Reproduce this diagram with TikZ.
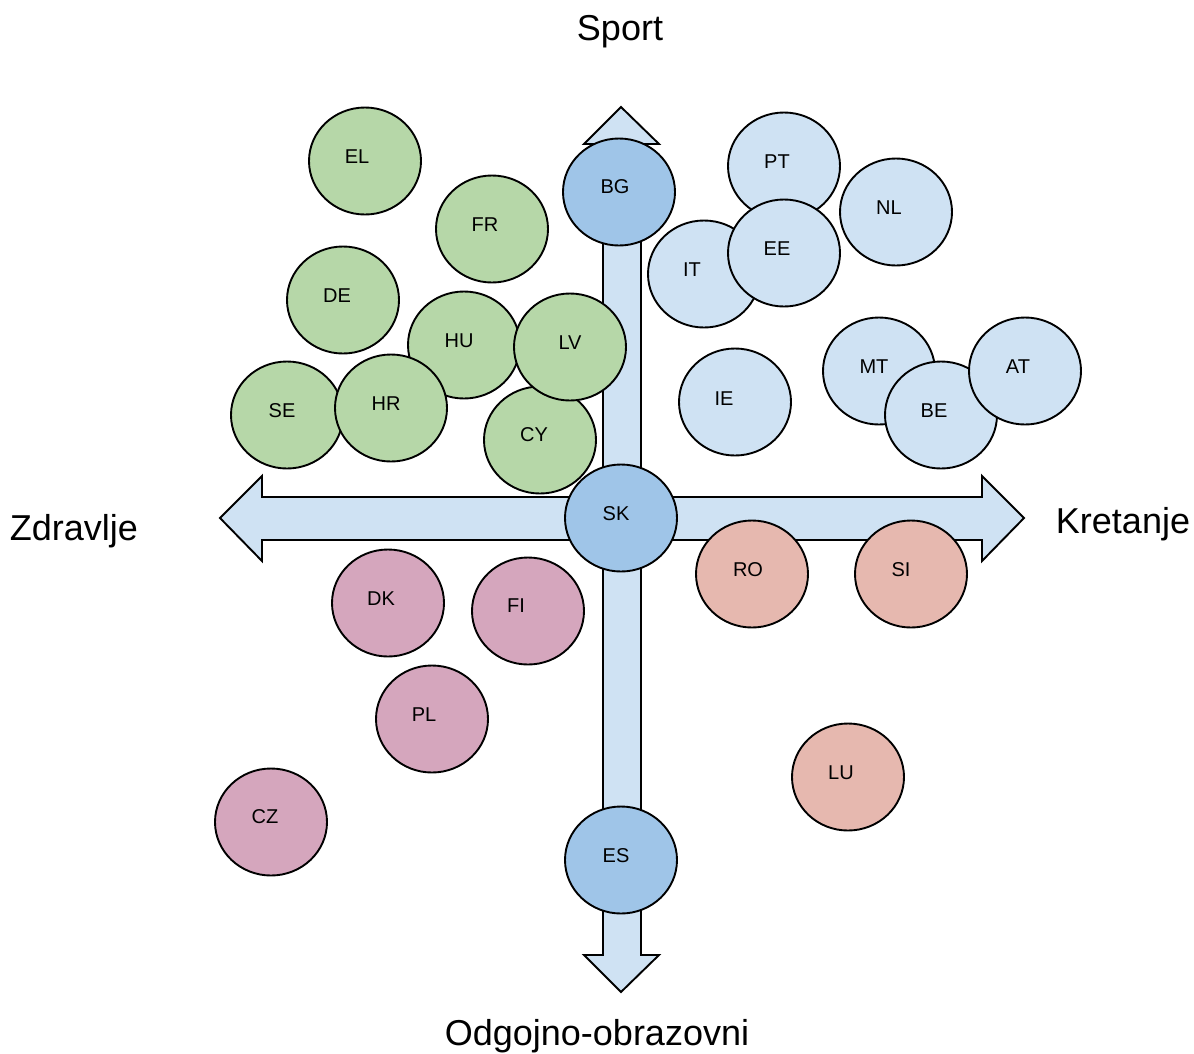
\documentclass[tikz,border=0pt]{standalone}
\usepackage{fontspec}
\setmainfont{Liberation Sans}
\usetikzlibrary{shapes.geometric}
\definecolor{axisfill}{HTML}{CFE2F3}
\definecolor{darkblue}{HTML}{9FC5E8}
\definecolor{lightblue}{HTML}{CFE2F3}
\definecolor{greenf}{HTML}{B6D7A8}
\definecolor{pinkf}{HTML}{D5A6BD}
\definecolor{salmonf}{HTML}{E6B8AF}
\tikzset{
  country/.style={ellipse, draw=black, line width=1.9pt, minimum width=112pt, minimum height=107pt, inner sep=0pt},
  grp/.style={country, fill=greenf},
  blu/.style={country, fill=lightblue},
  dblu/.style={country, fill=darkblue},
  pnk/.style={country, fill=pinkf},
  sal/.style={country, fill=salmonf},
  lbl/.style={font=\fontsize{20}{20}\selectfont, text height=14.3pt, text depth=0pt, inner sep=0pt},
  axislbl/.style={font=\fontsize{36}{36}\selectfont, anchor=base, inner sep=0pt},
  axisarrow/.style={draw=black, line width=1.9pt, fill=axisfill, line join=miter}
}
\begin{document}
\begin{tikzpicture}[x=1pt,y=-1pt]
\useasboundingbox (0,0) rectangle (1194,1053);
% axis labels
\node[axislbl] (sport) at (620,40) {Sport};
\node[axislbl] (zdr) at (74,540) {Zdravlje};
\node[axislbl] (kret) at (1123,533) {Kretanje};
\node[axislbl] (odg) at (597,1045) {Odgojno-obrazovni};
% horizontal double arrow
\draw[axisarrow] (220,518) -- (262,476) -- (262,497) -- (982,497) -- (982,476) -- (1024,518)
  -- (982,561) -- (982,540) -- (262,540) -- (262,561) -- cycle;
% vertical double arrow
\draw[axisarrow] (621,107) -- (659,144) -- (641,144) -- (641,955) -- (659,955) -- (621,992)
  -- (584,955) -- (603,955) -- (603,144) -- (584,144) -- cycle;
% green group
\node[grp] (EL) at (365,161) {};
\node[grp] (FR) at (492,229) {};
\node[grp] (DE) at (343,300) {};
\node[grp] (SE) at (287,415) {};
\node[grp] (HU) at (464,345) {};
\node[grp] (HR) at (391,408) {};
\node[grp] (CY) at (540,440) {};
\node[grp] (LV) at (570,347) {};
% blue group
\node[dblu] (BG) at (619,192) {};
\node[blu] (PT) at (784,166) {};
\node[blu] (IT) at (704,274) {};
\node[blu] (EE) at (784,253) {};
\node[blu] (NL) at (896,212) {};
\node[blu] (IE) at (735,402) {};
\node[blu] (MT) at (879,371) {};
\node[blu] (BE) at (941,415) {};
\node[blu] (AT) at (1025,371) {};
\node[dblu] (SK) at (621,518) {};
% salmon group
\node[sal] (RO) at (752,574) {};
\node[sal] (SI) at (911,574) {};
\node[sal] (LU) at (848,777) {};
% pink group
\node[pnk] (DK) at (388,603) {};
\node[pnk] (FI) at (528,611) {};
\node[pnk] (PL) at (432,719) {};
\node[pnk] (CZ) at (271,822) {};
\node[dblu] (ES) at (621,860) {};
% labels
\node[lbl] (ELt) at (357,156) {EL};
\node[lbl] (FRt) at (485,224) {FR};
\node[lbl] (DEt) at (337,295) {DE};
\node[lbl] (HUt) at (459,340) {HU};
\node[lbl] (LVt) at (570,342) {LV};
\node[lbl] (SEt) at (282,410) {SE};
\node[lbl] (HRt) at (386,403) {HR};
\node[lbl] (CYt) at (534,434) {CY};
\node[lbl] (BGt) at (615,186) {BG};
\node[lbl] (PTt) at (777,161) {PT};
\node[lbl] (NLt) at (889,207) {NL};
\node[lbl] (ITt) at (692,269) {IT};
\node[lbl] (EEt) at (777,248) {EE};
\node[lbl] (IEt) at (724,398) {IE};
\node[lbl] (MTt) at (874,366) {MT};
\node[lbl] (ATt) at (1018,366) {AT};
\node[lbl] (BEt) at (934,410) {BE};
\node[lbl] (SKt) at (616,513) {SK};
\node[lbl] (ROt) at (748,569) {RO};
\node[lbl] (SIt) at (901,569) {SI};
\node[lbl] (DKt) at (381,598) {DK};
\node[lbl] (FIt) at (516,605) {FI};
\node[lbl] (PLt) at (424,714) {PL};
\node[lbl] (CZt) at (265,816) {CZ};
\node[lbl] (LUt) at (841,772) {LU};
\node[lbl] (ESt) at (616,855) {ES};
\end{tikzpicture}
\end{document}
